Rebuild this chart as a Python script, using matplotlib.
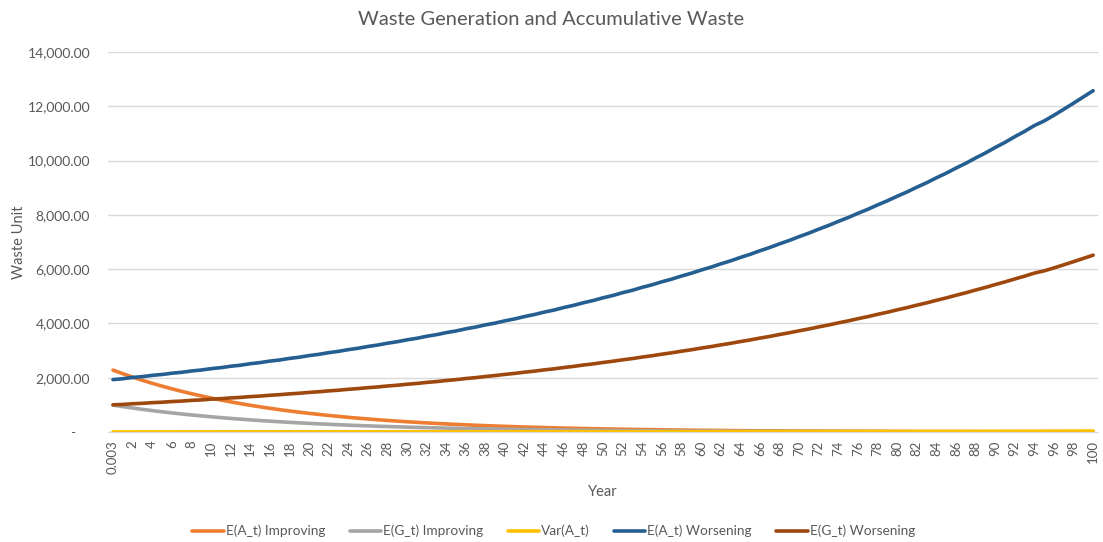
import matplotlib.pyplot as plt
from matplotlib.ticker import FuncFormatter

# x categories (Excel category axis)
years = ['0.003'] + [str(i) for i in range(1, 101)]

# series values
ea_improving = [2280, 2147, 2022, 1904, 1794, 1689, 1591, 1498, 1411, 1329,
                1251, 1178, 1110, 1045, 984, 927, 873, 822, 774, 729,
                687, 647, 609, 574, 540, 509, 479, 451, 425, 400,
                377, 355, 334, 315, 296, 279, 263, 248, 233, 220,
                207, 195, 183, 173, 163, 153, 144, 136, 128, 121,
                114, 107, 101, 95, 89, 84, 79, 75, 70, 66,
                62, 59, 55, 52, 49, 46, 43, 41, 39, 36,
                34, 32, 30, 28, 27, 25, 24, 22, 21, 20,
                19, 17, 16, 15, 15, 14, 13, 12, 11, 11,
                10, 10, 9, 8, 8, 7, 7, 7, 6, 6, 6]
eg_improving = [990, 935, 883, 834, 788, 744, 703, 664, 627, 593,
                560, 529, 500, 472, 446, 421, 398, 376, 355, 335,
                317, 299, 283, 267, 252, 238, 225, 212, 201, 190,
                179, 169, 160, 151, 143, 135, 127, 120, 114, 107,
                101, 96, 90, 85, 81, 76, 72, 68, 64, 61,
                57, 54, 51, 48, 46, 43, 41, 38, 36, 34,
                32, 31, 29, 27, 26, 24, 23, 22, 21, 19,
                18, 17, 16, 15, 15, 14, 13, 12, 12, 11,
                10, 10, 9, 9, 8, 8, 7, 7, 6, 6,
                6, 5, 5, 5, 4, 4, 4, 4, 3, 3, 3]
var_a = [1, 1, 1, 2, 2, 2, 2, 3, 3, 3,
         3, 3, 4, 4, 4, 4, 4, 5, 5, 5,
         5, 5, 5, 6, 6, 6, 6, 6, 6, 7,
         7, 7, 7, 7, 7, 8, 8, 8, 8, 8,
         8, 9, 9, 9, 9, 9, 9, 10, 10, 10,
         10, 10, 11, 11, 11, 11, 11, 12, 12, 12,
         12, 13, 13, 13, 13, 14, 14, 14, 14, 15,
         15, 15, 16, 16, 16, 17, 17, 17, 18, 18,
         18, 19, 19, 20, 20, 20, 21, 21, 22, 22,
         23, 24, 26, 28, 30, 31, 32, 33, 34, 35, 36]
ea_worsening = [1930, 1962, 2009, 2040, 2086, 2118, 2165, 2198, 2247, 2282,
                2333, 2370, 2421, 2460, 2515, 2556, 2611, 2653, 2710, 2755,
                2814, 2861, 2922, 2970, 3034, 3085, 3150, 3203, 3270, 3326,
                3395, 3452, 3526, 3585, 3661, 3722, 3801, 3866, 3946, 4013,
                4097, 4167, 4254, 4328, 4417, 4493, 4586, 4666, 4762, 4845,
                4944, 5030, 5133, 5222, 5330, 5424, 5534, 5631, 5746, 5848,
                5966, 6072, 6194, 6304, 6430, 6545, 6676, 6797, 6932, 7058,
                7197, 7328, 7473, 7609, 7759, 7900, 8057, 8203, 8365, 8518,
                8685, 8843, 9018, 9182, 9364, 9534, 9722, 9899, 10095, 10279,
                10480, 10670, 10880, 11075, 11290, 11460, 11670, 11890, 12115, 12345, 12575]
eg_worsening = [1000, 1016, 1040, 1056, 1080, 1096, 1121, 1138, 1164, 1181,
                1208, 1227, 1255, 1274, 1303, 1323, 1352, 1374, 1404, 1427,
                1458, 1482, 1514, 1539, 1572, 1598, 1632, 1659, 1694, 1722,
                1759, 1788, 1826, 1856, 1896, 1928, 1969, 2002, 2044, 2079,
                2122, 2159, 2204, 2241, 2288, 2327, 2375, 2417, 2467, 2509,
                2561, 2606, 2659, 2705, 2761, 2809, 2867, 2917, 2976, 3029,
                3090, 3145, 3208, 3265, 3331, 3390, 3459, 3520, 3591, 3656,
                3728, 3795, 3871, 3941, 4020, 4092, 4174, 4249, 4334, 4412,
                4499, 4581, 4672, 4756, 4851, 4939, 5036, 5128, 5230, 5325,
                5430, 5529, 5638, 5740, 5854, 5936, 6045, 6159, 6276, 6395, 6514]

series = [
    ('E(A_t) Improving', ea_improving, '#ED7D31'),
    ('E(G_t) Improving', eg_improving, '#A5A5A5'),
    ('Var(A_t)', var_a, '#FFC000'),
    ('E(A_t) Worsening', ea_worsening, '#255E91'),
    ('E(G_t) Worsening', eg_worsening, '#9E480E'),
]

plt.rcParams['font.family'] = ['Lato', 'DejaVu Sans']
txt = '#595959'

fig = plt.figure(figsize=(11.03, 5.42), dpi=100)
ax = fig.add_axes([0.098, 0.203, 0.8975, 0.701])

x = list(range(len(years)))
for name, vals, col in series:
    ax.plot(x, vals, color=col, lw=2.6, label=name, solid_capstyle='round')

ax.set_xlim(-0.5, len(years) - 0.5)
ax.set_ylim(0, 14000)
ax.set_yticks(range(0, 14001, 2000))
ax.yaxis.set_major_formatter(FuncFormatter(lambda v, p: '-    ' if v == 0 else f'{v:,.2f}'))
ax.set_xticks(x[::2])
ax.set_xticklabels(years[::2], rotation=90)
ax.tick_params(length=0, colors=txt, labelsize=9.5)
ax.tick_params(axis='y', pad=13, labelsize=10)
ax.tick_params(axis='x', pad=6)
ax.grid(axis='y', color='#D9D9D9', lw=1)
ax.set_axisbelow(True)
for s in ['top', 'right', 'left']:
    ax.spines[s].set_visible(False)
ax.spines['bottom'].set_color('#D9D9D9')

ax.set_xlabel('Year', color=txt, fontsize=10.5, labelpad=8)
ax.set_ylabel('Waste Unit', color=txt, fontsize=10.5)
ax.yaxis.set_label_coords(-0.083, 0.5)
fig.suptitle('Waste Generation and Accumulative Waste', color=txt, fontsize=14.5, y=0.98)

fig.legend(loc='center', bbox_to_anchor=(0.502, 0.02), ncol=5, frameon=False,
           fontsize=9.8, handlelength=2.3, columnspacing=1.8, labelcolor=txt,
           handletextpad=0.15)

fig.savefig('out.png', dpi=100)
